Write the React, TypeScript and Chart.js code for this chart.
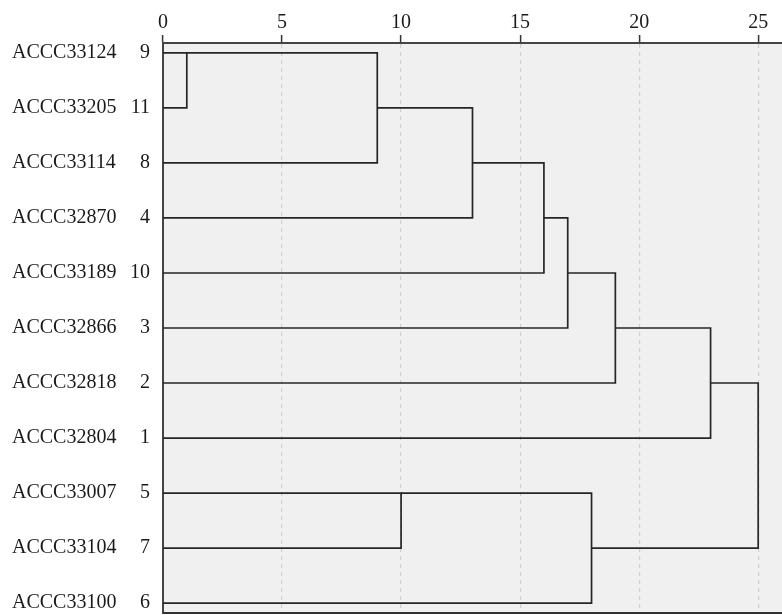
import React, { useEffect, useRef } from "react";
import { Chart, registerables } from "chart.js";

Chart.register(...registerables);

// Leaves, top to bottom
const leafNames = [
  "ACCC33124", "ACCC33205", "ACCC33114", "ACCC32870", "ACCC33189", "ACCC32866",
  "ACCC32818", "ACCC32804", "ACCC33007", "ACCC33104", "ACCC33100",
];
const leafIds = [9, 11, 8, 4, 10, 3, 2, 1, 5, 7, 6];

// Each link joins an upper branch and a lower branch at a rescaled distance
const linkHeight = [1, 9, 13, 16, 17, 19, 23, 10, 18, 25];
const upperRow = [0, 0, 1, 2, 3, 4, 5, 8, 8, 6];
const upperFrom = [0, 1, 9, 13, 16, 17, 19, 0, 10, 23];
const lowerRow = [1, 2, 3, 4, 5, 6, 7, 9, 10, 9];
const lowerFrom = [0, 0, 0, 0, 0, 0, 0, 0, 0, 18];

const xTicks = [0, 5, 10, 15, 20, 25];

const FONT = { family: "'Liberation Serif', 'Times New Roman', serif", size: 20 };

const bgPlugin = {
  id: "plotBg",
  beforeDraw(chart: any) {
    const { ctx, chartArea } = chart;
    ctx.save();
    ctx.fillStyle = "#f0f0f0";
    ctx.fillRect(chartArea.left, chartArea.top, chartArea.right - chartArea.left, chartArea.bottom - chartArea.top);
    ctx.restore();
  },
  afterDraw(chart: any) {
    const { ctx, chartArea } = chart;
    ctx.save();
    ctx.strokeStyle = "#333";
    ctx.lineWidth = 2;
    ctx.beginPath();
    ctx.moveTo(chartArea.left, chartArea.bottom);
    ctx.lineTo(chartArea.right, chartArea.bottom);
    ctx.stroke();
    ctx.restore();
  },
};

export default function App() {
  const ref = useRef<HTMLCanvasElement | null>(null);

  useEffect(() => {
    if (!ref.current) return;
    const datasets = linkHeight.map((h, i) => ({
      data: [
        { x: upperFrom[i], y: upperRow[i] },
        { x: h, y: upperRow[i] },
        { x: h, y: lowerRow[i] },
        { x: lowerFrom[i], y: lowerRow[i] },
      ],
      showLine: true,
      borderColor: "#262626",
      borderWidth: 1.7,
      pointRadius: 0,
      tension: 0,
      fill: false,
    }));

    const rowMin = -0.18;
    const rowMax = leafIds.length - 1 + 0.18;

    const chart = new Chart(ref.current, {
      type: "scatter",
      data: { datasets },
      plugins: [bgPlugin],
      options: {
        animation: false,
        responsive: false,
        layout: { padding: { left: 12, right: 0, top: 0, bottom: 2 } },
        plugins: { legend: { display: false }, tooltip: { enabled: false } },
        scales: {
          x: {
            type: "linear",
            position: "top",
            min: 0,
            max: 26,
            afterBuildTicks: (s: any) => {
              s.ticks = xTicks.map((v) => ({ value: v }));
            },
            afterFit: (s: any) => {
              s.height = 43;
              s.paddingLeft = 0;
              s.paddingRight = 0;
            },
            ticks: { font: FONT, color: "#1a1a1a", padding: 0, maxRotation: 0 },
            grid: {
              color: (c: any) => (c.tick && c.tick.value === 0 ? "rgba(0,0,0,0)" : "#cfcfcf"),
              lineWidth: 1.2,
              tickColor: "#333",
              tickLength: 8,
              tickWidth: 1.5,
            },
            border: { display: true, color: "#444", width: 2, dash: [4, 4] },
          },
          y: {
            type: "linear",
            position: "left",
            weight: 0,
            reverse: true,
            min: rowMin,
            max: rowMax,
            afterBuildTicks: (s: any) => {
              s.ticks = leafIds.map((_, i) => ({ value: i }));
            },
            afterFit: (s: any) => {
              s.width = 38;
              s.paddingTop = 0;
              s.paddingBottom = 0;
            },
            ticks: {
              font: FONT,
              color: "#1a1a1a",
              padding: 13,
              callback: (v: any) => String(leafIds[v as number] ?? ""),
            },
            grid: { drawOnChartArea: false, drawTicks: false },
            border: { display: true, color: "#444", width: 2 },
          },
          yName: {
            type: "linear",
            position: "left",
            weight: 1,
            reverse: true,
            min: rowMin,
            max: rowMax,
            afterBuildTicks: (s: any) => {
              s.ticks = leafNames.map((_, i) => ({ value: i }));
            },
            afterFit: (s: any) => {
              s.width = 113;
              s.paddingTop = 0;
              s.paddingBottom = 0;
            },
            ticks: {
              font: FONT,
              color: "#1a1a1a",
              crossAlign: "far",
              padding: 0,
              callback: (v: any) => leafNames[v as number] ?? "",
            },
            grid: { display: false, drawTicks: false },
            border: { display: false },
          },
        },
      } as any,
    });
    return () => chart.destroy();
  }, []);

  return (
    <div style={{ position: "fixed", left: 0, top: 0, width: 782, height: 615, background: "#fff" }}>
      <canvas ref={ref} width={782} height={615} style={{ display: "block" }} />
    </div>
  );
}
